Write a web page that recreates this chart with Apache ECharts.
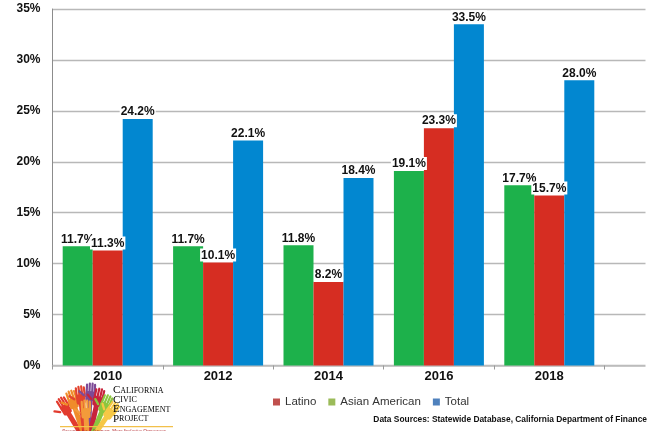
<!DOCTYPE html>
<html>
<head>
<meta charset="utf-8">
<script src="https://cdn.jsdelivr.net/npm/echarts@6/dist/echarts.min.js"></script>
<style>
  html, body { margin: 0; padding: 0; background: #fff; }
  #main { width: 652px; height: 431px; }
</style>
</head>
<body>
<div id="main"></div>
<script>
// categories (last slot is empty in the original)
var years = ['2010', '2012', '2014', '2016', '2018', ''];
// series values, %
var asianAmerican = [11.7, 11.7, 11.8, 19.1, 17.7];
var latino = [11.3, 10.1, 8.2, 23.3, 16.7];
// the 2018 latino label in the source reads 15.7% although the bar sits near 16.7
var latinoLabels = ['11.3%', '10.1%', '8.2%', '23.3%', '15.7%'];
var total = [24.2, 22.1, 18.4, 33.5, 28.0];
var yMax = 35, yStep = 5;

var chart = echarts.init(document.getElementById('main'));

function barLabel(fmt) {
  return {
    show: true,
    position: 'top',
    distance: 1,
    color: '#111',
    fontFamily: 'Liberation Sans',
    fontWeight: 'bold',
    fontSize: 12,
    backgroundColor: '#fff',
    padding: [1, 1, 0, 1],
    formatter: fmt
  };
}

// little hands logo, just drawn with shapes
function hand(x, y, rot, color) {
  var kids = [
    { type: 'rect', shape: { x: -4, y: -6, width: 8, height: 9, r: 2 }, style: { fill: color } },
    { type: 'rect', shape: { x: -2.2, y: 2, width: 4.4, height: 24 }, style: { fill: color } }
  ];
  var fx = [-4, -1.6, 0.8, 3];
  for (var i = 0; i < fx.length; i++) {
    kids.push({ type: 'rect', shape: { x: fx[i] - 0.1, y: -14 + Math.abs(i - 1.5), width: 1.9, height: 10, r: 1 }, style: { fill: color } });
  }
  kids.push({ type: 'rect', rotation: 0.9, x: -4, y: -1, shape: { x: -1, y: -8, width: 2, height: 7, r: 1 }, style: { fill: color } });
  return { type: 'group', x: x, y: y, rotation: rot, scaleX: 1.15, scaleY: 1.15, children: kids };
}

function logoLine(first, rest, y) {
  return {
    type: 'text', left: 113, top: y, z: 100,
    style: {
      text: '{a|' + first + '}{b|' + rest + '}',
      rich: {
        a: { fontFamily: 'Liberation Serif', fontSize: 11, color: '#c3272e' },
        b: { fontFamily: 'Liberation Serif', fontSize: 8, color: '#9e2a36' }
      }
    }
  };
}

var option = {
  animation: false,
  grid: { left: 52.5, width: 662.4, top: 9, bottom: 65.5, outerBoundsMode: 'none', containLabel: false },
  legend: {
    left: 268,
    top: 391,
    icon: 'rect',
    itemWidth: 7,
    itemHeight: 7,
    itemGap: 12,
    textStyle: { fontFamily: 'Liberation Sans', fontSize: 11.5, color: '#333' },
    data: [
      { name: 'Latino', itemStyle: { color: '#c0504d' } },
      { name: 'Asian American', itemStyle: { color: '#9bbb59' } },
      { name: 'Total', itemStyle: { color: '#4f81bd' } }
    ]
  },
  xAxis: {
    type: 'category',
    data: years,
    axisLine: { lineStyle: { color: '#bdbdbd', width: 1.5 } },
    axisTick: { show: true, length: 4, lineStyle: { color: '#999' } },
    axisLabel: { margin: 4, color: '#111', fontFamily: 'Liberation Sans', fontWeight: 'bold', fontSize: 13 }
  },
  yAxis: {
    type: 'value',
    min: 0,
    max: yMax,
    interval: yStep,
    axisLine: { show: true, lineStyle: { color: '#8c8c8c', width: 1 } },
    axisTick: { show: false },
    splitLine: { lineStyle: { color: '#b8b8b8', width: 1.3 } },
    axisLabel: {
      margin: 12,
      color: '#111',
      fontFamily: 'Liberation Sans',
      fontWeight: 'bold',
      fontSize: 12,
      formatter: '{value}%'
    }
  },
  series: [
    {
      name: 'Asian American',
      type: 'bar',
      data: asianAmerican,
      barWidth: 30,
      barGap: '0%',
      itemStyle: { color: '#1db14b' },
      label: barLabel(function (p) { return p.value.toFixed(1) + '%'; })
    },
    {
      name: 'Latino',
      type: 'bar',
      data: latino,
      barWidth: 30,
      barGap: '0%',
      itemStyle: { color: '#d62d22' },
      label: barLabel(function (p) { return latinoLabels[p.dataIndex]; })
    },
    {
      name: 'Total',
      type: 'bar',
      data: total,
      barWidth: 30,
      barGap: '0%',
      itemStyle: { color: '#0287d0' },
      label: barLabel(function (p) { return p.value.toFixed(1) + '%'; })
    }
  ],
  graphic: [
    // trim the plot on the right like the original
    { type: 'rect', z: 100, shape: { x: 645.5, y: 0, width: 10, height: 372 }, style: { fill: '#fff' } },
    {
      type: 'text', right: 5, top: 415.5, z: 100,
      style: {
        text: 'Data Sources: Statewide Database, California Department of Finance',
        fill: '#111',
        font: 'bold 8.4px "Liberation Sans"'
      }
    },
    { type: 'group', z: 100, children: [
      hand(67, 411, 0.55, '#e23b2e'),
      hand(74, 405, 0.32, '#f08c2a'),
      hand(81, 401, 0.12, '#e2432f'),
      hand(90, 398, -0.05, '#7d4a97'),
      hand(97, 403, -0.22, '#c8243c'),
      hand(103, 409, -0.4, '#8cc63f'),
      hand(108, 415, -0.6, '#f6c845'),
      hand(86, 415, 0.05, '#f39b3a')
    ] },
    logoLine('C', 'ALIFORNIA', 385),
    logoLine('C', 'IVIC', 394.5),
    logoLine('E', 'NGAGEMENT', 404),
    logoLine('P', 'ROJECT', 413.5),
    { type: 'rect', z: 100, shape: { x: 60, y: 426, width: 113, height: 1.2 }, style: { fill: '#f2c04a' } },
    {
      type: 'text', left: 62, top: 428, z: 100,
      style: { text: 'Research for a Stronger, More Inclusive Democracy', fill: '#b32a30', font: 'italic 5px "Liberation Serif"' }
    }
  ]
};

chart.setOption(option);
</script>
</body>
</html>
